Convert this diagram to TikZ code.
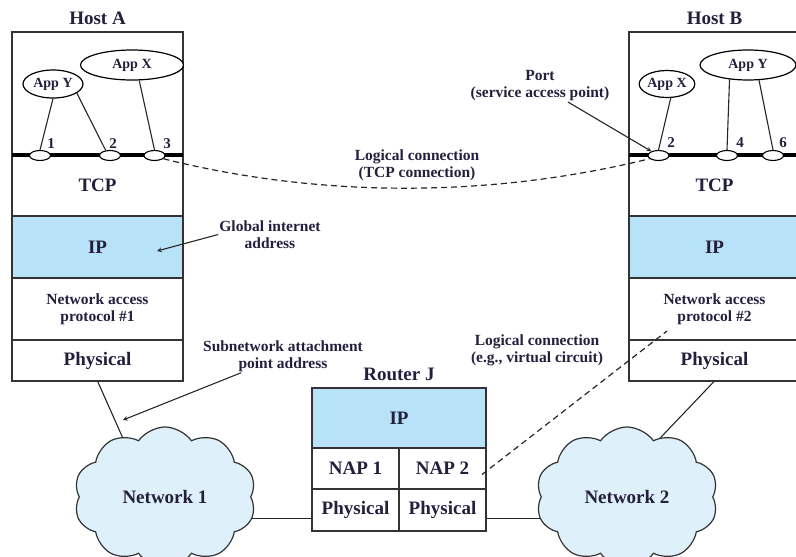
\documentclass[tikz,border=0pt]{standalone}
\usepackage{fontspec}
\setmainfont{Liberation Serif}
\usetikzlibrary{arrows,shapes,shapes.symbols,positioning,backgrounds}
\definecolor{inkcolor}{rgb}{0.14,0.12,0.24}
\definecolor{framecolor}{rgb}{0.2,0.2,0.2}
\definecolor{ipcolor}{RGB}{184,226,247}
\definecolor{cloudcolor}{RGB}{222,241,250}
\newcommand{\bigfont}{\fontsize{19}{21}\selectfont\bfseries}
\newcommand{\notefont}{\fontsize{15.5}{17}\selectfont\bfseries}
\newcommand{\appfont}{\fontsize{14}{16}\selectfont\bfseries}
\newcommand{\numfont}{\fontsize{15}{17}\selectfont\bfseries}
\tikzset{
	layer/.style={
		rectangle,
		draw=framecolor,
		line width=1.3pt,
		fill=white,
		minimum width=171pt,
		inner sep=0pt,
		outer sep=0pt,
		text=inkcolor,
		font=\bigfont
	},
	iplayer/.style={
		layer,
		fill=ipcolor
	},
	naplayer/.style={
		layer,
		font=\notefont,
		align=center
	},
	title/.style={
		text=inkcolor,
		font=\bigfont,
		inner sep=0pt
	},
	app/.style={
		ellipse,
		draw=black,
		line width=1.2pt,
		fill=white,
		inner sep=0pt,
		text=inkcolor,
		font=\appfont
	},
	port/.style={
		ellipse,
		draw=black,
		line width=1.1pt,
		fill=white,
		minimum width=21pt,
		minimum height=10pt,
		inner sep=0pt
	},
	num/.style={
		text=inkcolor,
		font=\numfont,
		inner sep=0pt
	},
	note/.style={
		text=inkcolor,
		font=\notefont,
		align=center,
		inner sep=1pt
	},
	network/.style={
		cloud,
		cloud puffs=10,
		cloud puff arc=110,
		cloud ignores aspect,
		draw=framecolor,
		line width=1.2pt,
		fill=cloudcolor,
		text=inkcolor,
		font=\bigfont,
		minimum width=182pt,
		minimum height=140pt
	},
	portline/.style={
		draw=black,
		line width=3.5pt
	},
	link/.style={
		draw=black!85,
		line width=1.1pt
	},
	arrow/.style={
		draw=black!85,
		line width=1.1pt,
		->,
		>=stealth
	},
	logical/.style={
		draw=black!85,
		line width=1.2pt,
		dash pattern=on 6pt off 4pt
	},
}

\begin{document}
\begin{tikzpicture}[x=1pt, y=-1pt]
		\useasboundingbox (0,0) rectangle (796,557);
		% Host A
		\node (appsA) [layer, minimum height=123pt] at (97.5,93.5) {};
		\node (tcpA) [layer, minimum height=61pt, below=0pt of appsA] {TCP};
		\node (ipA) [iplayer, minimum height=62pt, below=0pt of tcpA] {IP};
		\node (napA) [naplayer, minimum height=62pt, below=0pt of ipA] {Network access\\protocol \#1};
		\node (phyA) [layer, minimum height=41pt, below=0pt of napA] {Physical};
		\node (hostA) [title, above=7pt of appsA] {Host A};
		\node (appYA) [app, minimum width=60pt, minimum height=28pt] at (53,84) {App Y};
		\node (appXA) [app, minimum width=103pt, minimum height=30pt] at (132,65) {App X};
		\draw [portline] (appsA.south west) -- (appsA.south east);
		\node (pA1) [port] at (40,155.5) {};
		\node (pA2) [port] at (110,155.5) {};
		\node (pA3) [port] at (154.5,155.5) {};
		\node (nA1) [num] at (51,144) {1};
		\node (nA2) [num] at (113,144) {2};
		\node (nA3) [num] at (167,144) {3};
		\draw [link] (appYA.south) -- (pA1.north);
		\draw [link] (appYA.-21) -- (pA2.130);
		\draw [link] (appXA.-65) -- (pA3.north);
		% Host B
		\node (appsB) [layer, minimum height=123pt] at (714.5,93.5) {};
		\node (tcpB) [layer, minimum height=61pt, below=0pt of appsB] {TCP};
		\node (ipB) [iplayer, minimum height=62pt, below=0pt of tcpB] {IP};
		\node (napB) [naplayer, minimum height=62pt, below=0pt of ipB] {Network access\\protocol \#2};
		\node (phyB) [layer, minimum height=41pt, below=0pt of napB] {Physical};
		\node (hostB) [title, above=7pt of appsB] {Host B};
		\node (appXB) [app, minimum width=54pt, minimum height=27pt] at (667,84) {App X};
		\node (appYB) [app, minimum width=96pt, minimum height=30pt] at (748,65) {App Y};
		\draw [portline] (appsB.south west) -- (appsB.south east);
		\node (pB2) [port] at (658.5,155.5) {};
		\node (pB4) [port] at (727,155.5) {};
		\node (pB6) [port] at (773,155.5) {};
		\node (nB2) [num] at (671,143) {2};
		\node (nB4) [num] at (740,143) {4};
		\node (nB6) [num] at (783,143) {6};
		\draw [link] (appXB.-75) -- (pB2.north);
		\draw [link] (appYB.-142) -- (pB4.north);
		\draw [link] (appYB.-54) -- (pB6.north);
		% Router J
		\node (ipR) [iplayer, minimum width=174pt, minimum height=60pt] at (399,418) {IP};
		\node (routerJ) [title, above=7pt of ipR] {Router J};
		\node (napR1) [layer, minimum width=87pt, minimum height=41pt, anchor=north west] at (ipR.south west) {NAP 1};
		\node (napR2) [layer, minimum width=87pt, minimum height=41pt, anchor=north east] at (ipR.south east) {NAP 2};
		\node (phyR1) [layer, minimum width=87pt, minimum height=42pt, below=0pt of napR1] {Physical};
		\node (phyR2) [layer, minimum width=87pt, minimum height=42pt, below=0pt of napR2] {Physical};
		% networks
		\node (net1) [network] at (165,497) {Network 1};
		\node (net2) [network] at (627,497) {Network 2};
		\begin{scope}[on background layer]
			\draw [link] (phyA.south) -- ([xshift=-16pt]net1.center);
			\draw [link] (phyB.south) -- ([xshift=-23pt]net2.center);
			\draw [link] ([yshift=-8.5pt]phyR1.west) -- ([yshift=-8.5pt]phyR1.west -| net1.center);
			\draw [link] ([yshift=-8.5pt]phyR2.east) -- ([yshift=-8.5pt]phyR2.east -| net2.center);
		\end{scope}
		% logical connections
		\draw [logical] (pA3.-20) .. controls (320,198) and (490,198) .. (pB2.-160);
		\node (tcplbl) [note] at (417,165.5) {Logical connection\\(TCP connection)};
		\coordinate (vcend) at (667,331);
		\draw [logical] ([xshift=-4pt,yshift=-6pt]napR2.east) -- (vcend);
		\node (vclbl) [note] at (537,350) {Logical connection\\(e.g., virtual circuit)};
		% addresses
		\node (portlbl) [note] at (540,85.5) {Port\\(service access point)};
		\draw [arrow] (portlbl) -- (pB2);
		\node (gialbl) [note] at (270,234.5) {Global internet\\address};
		\coordinate (ipaddr) at (157,251);
		\draw [arrow] (gialbl.west) -- (ipaddr);
		\node (sublbl) [note] at (283,356) {Subnetwork attachment\\point address};
		\coordinate (subaddr) at (123,420);
		\draw [arrow] (sublbl) -- (subaddr);
\end{tikzpicture}
\end{document}
